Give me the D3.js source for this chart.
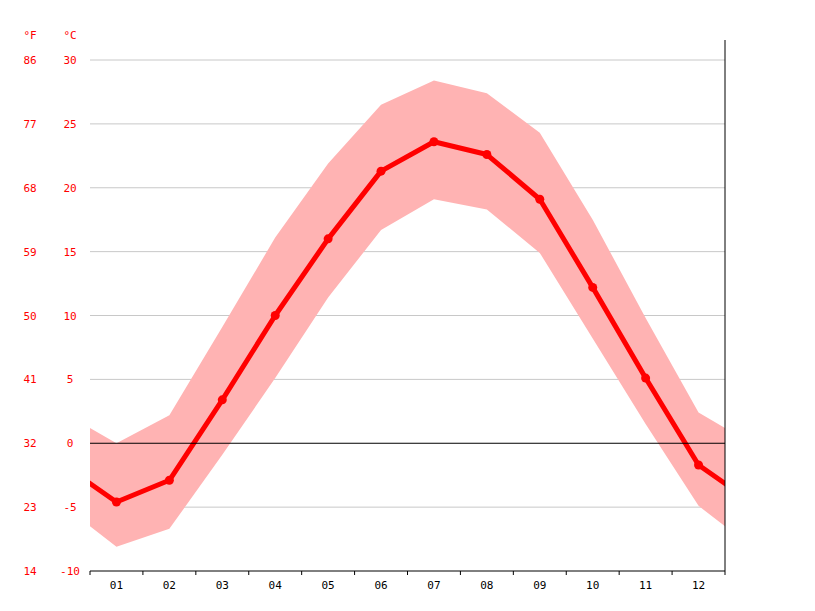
<!DOCTYPE html>
<html><head><meta charset="utf-8">
<script src="https://cdn.jsdelivr.net/npm/d3@7"></script>
<style>body{margin:0;background:#fff}svg{font-family:"DejaVu Sans Mono",monospace}</style>
</head><body><svg id="c" width="815" height="611"></svg>
<script>
const months=["01","02","03","04","05","06","07","08","09","10","11","12"];
const meanT=[-4.6,-2.9,3.4,10.0,16.0,21.3,23.6,22.6,19.1,12.2,5.1,-1.7];
const maxT=[0.0,2.2,9.1,16.1,21.9,26.5,28.4,27.4,24.3,17.5,9.8,2.4];
const minT=[-8.1,-6.7,-0.9,5.1,11.4,16.7,19.1,18.3,14.9,8.2,1.5,-4.9];
const cTicks=[-10,-5,0,5,10,15,20,25,30];
const fTicks=[14,23,32,41,50,59,68,77,86];

const svg=d3.select("#c");
const L=90,R=725,T=60,B=571;
const x=d3.scaleLinear().domain([0,12]).range([L,R]);
const y=d3.scaleLinear().domain([-10,30]).range([B,T]);
const red="#ff0000";

cTicks.forEach((t,i)=>{
  if(t!==-10&&t!==0) svg.append("line").attr("x1",L).attr("x2",R).attr("y1",y(t)).attr("y2",y(t)).attr("stroke","#c8c8c8");
  svg.append("text").attr("x",70).attr("y",y(t)+4).attr("text-anchor","middle").attr("font-size",11).attr("fill",red).text(t);
  svg.append("text").attr("x",30).attr("y",y(t)+4).attr("text-anchor","middle").attr("font-size",11).attr("fill",red).text(fTicks[i]);
});
svg.append("text").attr("x",30).attr("y",39).attr("text-anchor","middle").attr("font-size",11).attr("fill",red).text("°F");
svg.append("text").attr("x",70).attr("y",39).attr("text-anchor","middle").attr("font-size",11).attr("fill",red).text("°C");

svg.append("defs").append("clipPath").attr("id","clip").append("rect").attr("x",L).attr("y",0).attr("width",R-L).attr("height",611);
const idx=[-1,...d3.range(12),12];
const wrap=(a,i)=>a[(i+12)%12];
const g=svg.append("g").attr("clip-path","url(#clip)");
g.append("path").attr("fill","#ffb3b3").attr("d",d3.area().x(i=>x(i+0.5)).y0(i=>y(wrap(minT,i))).y1(i=>y(wrap(maxT,i)))(idx));
svg.append("line").attr("x1",L).attr("x2",R).attr("y1",y(0)).attr("y2",y(0)).attr("stroke","#000");
g.append("path").attr("fill","none").attr("stroke",red).attr("stroke-width",5).attr("stroke-linejoin","round")
 .attr("d",d3.line().x(i=>x(i+0.5)).y(i=>y(wrap(meanT,i)))(idx));
svg.selectAll("circle.p").data(meanT).join("circle").attr("cx",(d,i)=>x(i+0.5)).attr("cy",d=>y(d)).attr("r",4.5).attr("fill",red);

const ax=svg.append("g").attr("transform",`translate(0,${B})`);
ax.append("line").attr("x1",L).attr("x2",R).attr("stroke","#000");
d3.range(13).forEach(i=>ax.append("line").attr("x1",x(i)).attr("x2",x(i)).attr("y1",0).attr("y2",4).attr("stroke","#000"));
months.forEach((m,i)=>ax.append("text").attr("x",x(i+0.5)).attr("y",18).attr("text-anchor","middle").attr("font-size",11).attr("fill","#000").text(m));
svg.append("line").attr("x1",R).attr("x2",R).attr("y1",40).attr("y2",B).attr("stroke","#000");
</script></body></html>
